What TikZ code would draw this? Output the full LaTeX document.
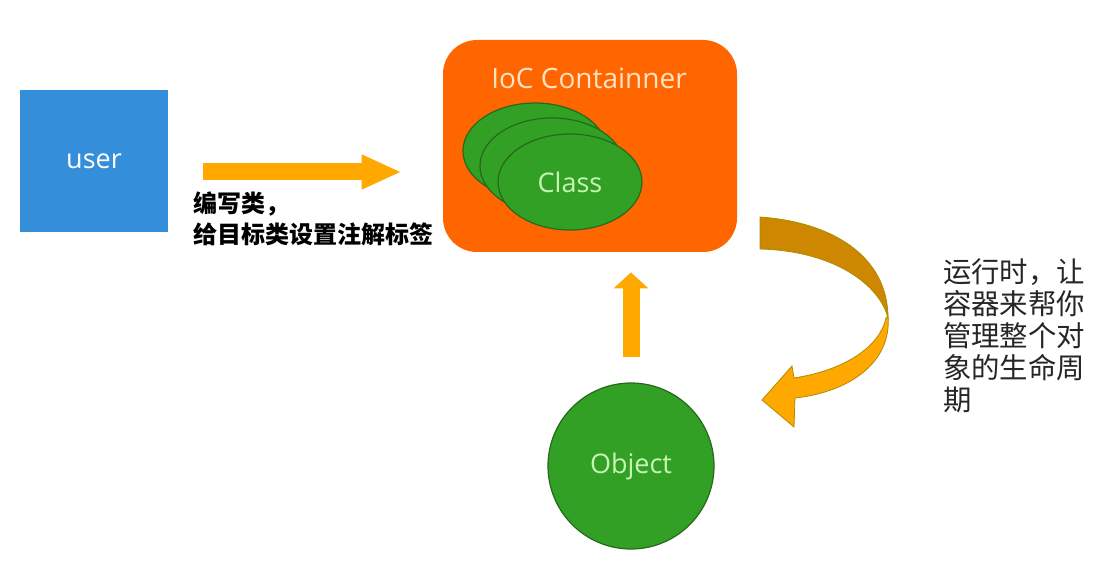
\documentclass[tikz,border=0pt]{standalone}
\usepackage{fontspec}
\setmainfont{Open Sans}
\newfontfamily\cjk{Noto Sans CJK SC}
\usetikzlibrary{arrows.meta, positioning, shapes.geometric}
\tikzset{
    userbox/.style={fill=userblue, minimum width=74pt, minimum height=71pt,
        text=white, font=\fontsize{13.5pt}{16pt}\selectfont},
    iocbox/.style={fill=iocorange, rounded corners=17pt, minimum width=147pt, minimum height=106pt},
    classell/.style={ellipse, fill=leafgreen, draw=darkgreen, line width=0.6pt,
        minimum width=72pt, minimum height=48pt, inner sep=0pt,
        text=palegreen, font=\fontsize{13.5pt}{16pt}\selectfont},
    fatarrow/.style={draw=arroworange, line width=8.5pt},
}

\begin{document}
\begin{tikzpicture}[x=0.5pt,y=-0.5pt]
\definecolor{userblue}{RGB}{52,142,218}
\definecolor{iocorange}{RGB}{255,102,0}
\definecolor{leafgreen}{RGB}{50,160,36}
\definecolor{darkgreen}{RGB}{38,105,28}
\definecolor{palegreen}{RGB}{200,245,180}
\definecolor{peach}{RGB}{255,226,195}
\definecolor{arroworange}{RGB}{255,168,0}
\definecolor{arrowdark}{RGB}{205,135,0}
\definecolor{arrowline}{RGB}{175,140,0}

\useasboundingbox (0,0) rectangle (1115,583);

\node[userbox] (user) at (94,161) {user};
\node[iocbox] (ioc) at (590,146) {};
\node[text=peach, font=\fontsize{14pt}{16pt}\selectfont] (ioctitle) at (589,78) {IoC Containner};
\node[classell] (classa) at (535,151) {};
\node[classell] (classb) at (552,166) {};
\node[classell] (classc) at (570,182) {Class};
\node[circle, fill=leafgreen, draw=darkgreen, line width=0.6pt, minimum size=83pt,
    text=palegreen, font=\fontsize{13.5pt}{16pt}\selectfont] (obj) at (631,466) {Object};

\coordinate[xshift=17.5pt, yshift=-5.5pt] (hs) at (user.east);
\coordinate (he) at ([xshift=-20.5pt]ioc.west |- hs);
\draw[fatarrow, -{Triangle[length=20pt, width=16pt]}] (hs) -- (he);

\coordinate[yshift=12.5pt] (vs) at (obj.north);
\coordinate[yshift=-10pt] (ve) at (ioc.south -| vs);
\draw[fatarrow, -{Triangle[length=8pt, width=17pt]}] (vs) -- (ve);

\filldraw[fill=arrowdark, draw=arrowline, line width=0.4pt] (760,217)
  .. controls (832,222) and (888,256) .. (888,318)
  .. controls (880,286) and (836,251) .. (760,249) -- cycle;
\filldraw[fill=arroworange, draw=arrowline, line width=0.4pt] (888,316)
  .. controls (892,362) and (850,392) .. (795,398) -- (794,427) -- (762,400)
  -- (792,366) -- (794,378) .. controls (846,370) and (880,346) .. (886,318) -- cycle;

\node[anchor=west, align=left, font=\cjk\bfseries\fontsize{12pt}{15.5pt}\selectfont] (lbl) at (186,219)
  {编写类，\\给目标类设置注解标签};
\node[anchor=west, align=left, text={black!85}, font=\cjk\fontsize{14.2pt}{16pt}\selectfont] (life) at (936,336)
  {运行时，让\\容器来帮你\\管理整个对\\象的生命周\\期};
\end{tikzpicture}
\end{document}
